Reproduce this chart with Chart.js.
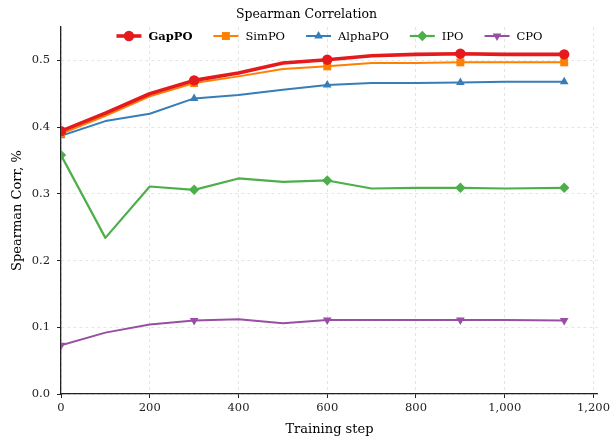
<!DOCTYPE html>
<html>
<head>
<meta charset="utf-8">
<script src="https://cdn.jsdelivr.net/npm/chart.js@4.4.0/dist/chart.umd.min.js"></script>
<style>
  html, body { margin: 0; padding: 0; background: #fff; overflow: hidden; }
  #wrap { width: 613px; height: 437px; }
</style>
</head>
<body>
<div id="wrap"><canvas id="Chart" width="613" height="437"></canvas></div>
<script>
// training steps (x) and spearman corr per method
var steps   = [0, 100, 200, 300, 400, 500, 600, 700, 800, 900, 1000, 1134];
var gappo   = [0.394, 0.421, 0.450, 0.470, 0.481, 0.496, 0.501, 0.507, 0.509, 0.510, 0.509, 0.509];
var simpo   = [0.390, 0.417, 0.446, 0.466, 0.476, 0.487, 0.491, 0.496, 0.496, 0.497, 0.497, 0.497];
var alphapo = [0.387, 0.409, 0.420, 0.443, 0.448, 0.456, 0.463, 0.466, 0.466, 0.467, 0.468, 0.468];
var ipo     = [0.358, 0.234, 0.311, 0.306, 0.323, 0.318, 0.320, 0.308, 0.309, 0.309, 0.308, 0.309];
var cpo     = [0.073, 0.092, 0.104, 0.110, 0.112, 0.106, 0.111, 0.111, 0.111, 0.111, 0.111, 0.110];
var xTicks  = [0, 200, 400, 600, 800, 1000, 1200];
var yTicks  = [0, 0.1, 0.2, 0.3, 0.4, 0.5];
var markAt  = [0, 300, 600, 900, 1134];

var serif = '"DejaVu Serif", "Liberation Serif", serif';

function pts(vals) {
    return steps.map(function (s, i) { return { x: s, y: vals[i] }; });
}
function radii(r) {
    return steps.map(function (s) { return markAt.indexOf(s) >= 0 ? r : 0; });
}
function series(label, vals, color, width, style, r, rot) {
    return {
        label: label,
        data: pts(vals),
        borderColor: color,
        backgroundColor: color,
        borderWidth: width,
        pointStyle: style,
        pointRotation: rot || 0,
        pointRadius: radii(r),
        pointHoverRadius: radii(r),
        pointBorderWidth: 0,
        tension: 0,
        borderJoinStyle: 'round',
        borderCapStyle: 'round',
        fill: false
    };
}

var datasets = [
    series('GapPO', gappo, '#e41a1c', 3.6, 'circle', 5.2),
    series('SimPO', simpo, '#ff7f00', 2, 'rect', 5.6),
    series('AlphaPO', alphapo, '#377eb8', 2, 'triangle', 5),
    series('IPO', ipo, '#4daf4a', 2.2, 'rectRot', 5.2),
    series('CPO', cpo, '#984ea3', 2, 'triangle', 5, 180)
];

// legend drawn inside the top of the plot, line + marker like matplotlib
var lineLegend = {
    id: 'lineLegend',
    afterDraw: function (chart) {
        var ctx = chart.ctx, area = chart.chartArea;
        var sets = chart.data.datasets;
        var lineLen = 25, textGap = 7, gap = 21;
        var fonts = sets.map(function (ds) {
            return (ds.label === 'GapPO' ? 'bold ' : '') + '11.5px ' + serif;
        });
        ctx.save();
        var widths = sets.map(function (ds, i) {
            ctx.font = fonts[i];
            return lineLen + textGap + ctx.measureText(ds.label).width;
        });
        var total = widths.reduce(function (a, b) { return a + b; }, 0) + gap * (sets.length - 1);
        var x = (area.left + area.right) / 2 - total / 2;
        var y = area.top + 9;
        sets.forEach(function (ds, i) {
            ctx.strokeStyle = ds.borderColor;
            ctx.lineWidth = ds.borderWidth;
            ctx.lineCap = 'butt';
            ctx.setLineDash([]);
            ctx.beginPath();
            ctx.moveTo(x, y);
            ctx.lineTo(x + lineLen, y);
            ctx.stroke();
            ctx.fillStyle = ds.backgroundColor;
            ctx.strokeStyle = ds.backgroundColor;
            ctx.lineWidth = 0;
            var r = Math.max.apply(null, ds.pointRadius);
            Chart.helpers.drawPoint(ctx, { pointStyle: ds.pointStyle, rotation: ds.pointRotation, radius: r, borderWidth: 0 }, x + lineLen / 2, y);
            ctx.fillStyle = '#000';
            ctx.font = fonts[i];
            ctx.textBaseline = 'middle';
            ctx.textAlign = 'left';
            ctx.fillText(ds.label, x + lineLen + textGap, y + 1);
            x += widths[i] + gap;
        });
        ctx.restore();
    }
};

var gridStyle = {
    color: 'rgba(0,0,0,0.13)',
    lineWidth: 0.8,
    tickColor: '#222',
    tickBorderDash: [],
    tickLength: 4,
    tickWidth: 1
};
var borderStyle = { color: '#222', width: 1.3, dash: [3, 3] };

var ctx = document.getElementById('Chart').getContext('2d');
var lineChart = new Chart(ctx, {
    type: 'line',
    data: { datasets: datasets },
    plugins: [lineLegend],
    options: {
        responsive: false,
        animation: false,
        layout: { padding: 0 },
        plugins: {
            legend: { display: false },
            tooltip: { enabled: false },
            title: {
                display: true,
                text: 'Spearman Correlation',
                color: '#000',
                font: { family: serif, size: 12.5, weight: 'normal' },
                padding: { top: 7, bottom: 5 }
            }
        },
        scales: {
            x: {
                type: 'linear',
                min: 0,
                max: 1210,
                afterBuildTicks: function (s) { s.ticks = xTicks.map(function (v) { return { value: v }; }); },
                afterFit: function (s) { s.height = 43; },
                grid: gridStyle,
                border: borderStyle,
                ticks: {
                    color: '#222',
                    padding: 3,
                    maxRotation: 0,
                    font: { family: serif, size: 11.5 },
                    callback: function (v) { return Number(v).toLocaleString('en-US'); }
                },
                title: {
                    display: true,
                    text: 'Training step',
                    color: '#000',
                    font: { family: serif, size: 13 },
                    padding: { top: 0, bottom: 0 }
                }
            },
            y: {
                min: 0,
                max: 0.55,
                afterBuildTicks: function (s) { s.ticks = yTicks.map(function (v) { return { value: v }; }); },
                afterFit: function (s) { s.width = 61; },
                grid: gridStyle,
                border: borderStyle,
                ticks: {
                    color: '#222',
                    padding: 7,
                    font: { family: serif, size: 11.5 },
                    callback: function (v) { return Number(v).toFixed(1); }
                },
                title: {
                    display: true,
                    text: 'Spearman Corr, %',
                    color: '#000',
                    font: { family: serif, size: 13 },
                    padding: { top: 10, bottom: 0 }
                }
            }
        }
    }
});
</script>
</body>
</html>
